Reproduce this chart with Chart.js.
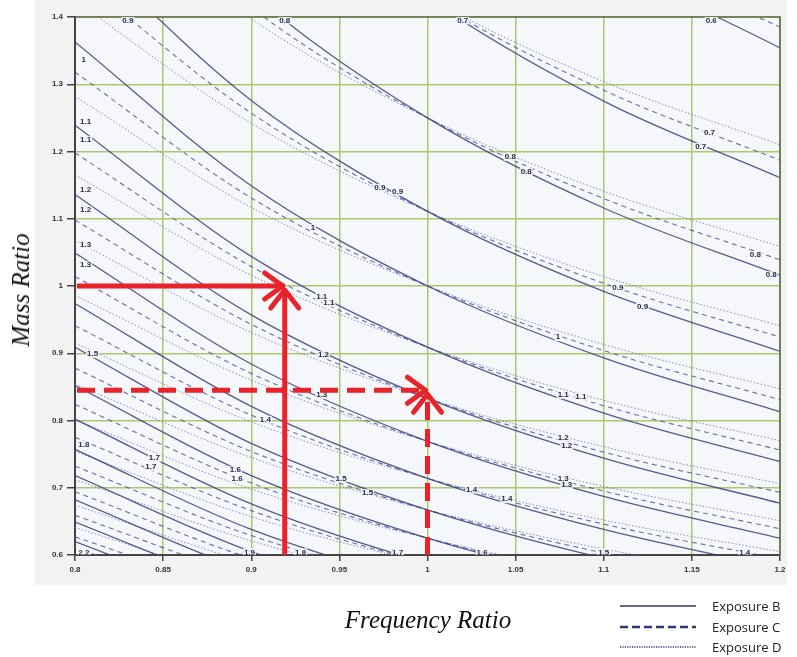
<!DOCTYPE html>
<html><head><meta charset="utf-8">
<script src="https://cdn.jsdelivr.net/npm/chart.js@4/dist/chart.umd.min.js"></script>
<style>
html,body{margin:0;padding:0;background:#fff;}
#wrap{position:relative;width:797px;height:657px;overflow:hidden;background:#fff;}
#bg{position:absolute;left:35px;top:0;width:752px;height:585px;background:#f2f2f2;}
#c{position:absolute;left:0;top:0;}
.ytitle{position:absolute;left:21px;top:290px;transform:translate(-50%,-50%) rotate(-90deg);font:italic 25px "Liberation Serif",serif;white-space:nowrap;color:#111;}
.xtitle{position:absolute;left:428px;top:620px;transform:translate(-50%,-50%);font:italic 25px "Liberation Serif",serif;color:#111;white-space:nowrap;}
.legend{position:absolute;left:620px;top:596px;font:13px "Open Sans","Liberation Sans",sans-serif;color:#222;}
.legend .row{height:20.5px;display:flex;align-items:center;}
.legend svg{margin-right:16px;}
</style></head>
<body><div id="wrap"><div id="bg"></div><canvas id="c" width="797" height="657"></canvas>
<div class="ytitle">Mass Ratio</div>
<div class="xtitle">Frequency Ratio</div>
<div class="legend">
<div class="row"><svg width="76" height="6"><line x1="0" y1="3" x2="76" y2="3" stroke="#2e3775" stroke-width="1.6"/></svg>Exposure B</div>
<div class="row"><svg width="76" height="6"><line x1="0" y1="3" x2="76" y2="3" stroke="#2e3775" stroke-width="2.4" stroke-dasharray="8,4"/></svg>Exposure C</div>
<div class="row"><svg width="76" height="6"><line x1="0" y1="3" x2="76" y2="3" stroke="#2e3775" stroke-width="1.6" stroke-dasharray="1.2,1.2"/></svg>Exposure D</div>
</div></div>
<script>
// ---- data ----
const freqs = [0.8, 0.9, 1.0, 1.1, 1.2];
const levels = [0.6, 0.7, 0.8, 0.9, 1.0, 1.1, 1.2, 1.3, 1.4, 1.5, 1.6, 1.7, 1.8, 1.9, 2.0, 2.1, 2.2];
// mass ratio of each contour level at the frequencies above
const massB = [
 [2.272,1.915,1.667,1.488,1.354],[1.948,1.641,1.429,1.275,1.161],[1.704,1.436,1.250,1.116,1.016],
 [1.515,1.276,1.111,0.992,0.903],[1.363,1.149,1.000,0.893,0.813],[1.239,1.044,0.909,0.811,0.739],
 [1.136,0.957,0.833,0.744,0.677],[1.049,0.884,0.769,0.687,0.625],[0.974,0.821,0.714,0.638,0.580],
 [0.909,0.766,0.667,0.595,0.542],[0.852,0.718,0.625,0.558,0.508],[0.802,0.676,0.588,0.525,0.478],
 [0.757,0.638,0.556,0.496,0.451],[0.718,0.605,0.526,0.470,0.428],[0.682,0.574,0.500,0.446,0.406],
 [0.649,0.547,0.476,0.425,0.387],[0.620,0.522,0.455,0.406,0.369]];
const massC = [
 [2.196,1.886,1.667,1.506,1.385],[1.882,1.616,1.429,1.291,1.187],[1.647,1.414,1.250,1.130,1.039],
 [1.464,1.257,1.111,1.004,0.924],[1.318,1.131,1.000,0.904,0.831],[1.198,1.029,0.909,0.822,0.756],
 [1.098,0.943,0.833,0.753,0.693],[1.014,0.870,0.769,0.695,0.639],[0.941,0.808,0.714,0.646,0.594],
 [0.878,0.754,0.667,0.603,0.554],[0.824,0.707,0.625,0.565,0.520],[0.775,0.666,0.588,0.532,0.489],
 [0.732,0.629,0.556,0.502,0.462],[0.694,0.595,0.526,0.476,0.437],[0.659,0.566,0.500,0.452,0.416],
 [0.627,0.539,0.476,0.430,0.396],[0.599,0.514,0.455,0.411,0.378]];
const massD = [
 [2.136,1.862,1.667,1.522,1.412],[1.831,1.596,1.429,1.304,1.210],[1.602,1.397,1.250,1.141,1.059],
 [1.424,1.242,1.111,1.014,0.941],[1.282,1.117,1.000,0.913,0.847],[1.165,1.016,0.909,0.830,0.770],
 [1.068,0.931,0.833,0.761,0.706],[0.986,0.860,0.769,0.702,0.651],[0.915,0.798,0.714,0.652,0.605],
 [0.854,0.745,0.667,0.609,0.565],[0.801,0.698,0.625,0.571,0.529],[0.754,0.657,0.588,0.537,0.498],
 [0.712,0.621,0.556,0.507,0.471],[0.674,0.588,0.526,0.481,0.446],[0.641,0.559,0.500,0.457,0.423],
 [0.610,0.532,0.476,0.435,0.403],[0.583,0.508,0.455,0.415,0.385]];
// contour labels: text, frequency ratio, mass ratio
const contourLabels = [
 ['0.7',1.160,1.228],['0.7',1.155,1.207],['0.8',1.186,1.046],['0.8',1.195,1.016],
 ['0.8',1.047,1.192],['0.8',1.056,1.170],['0.9',0.973,1.146],['0.9',0.983,1.140],
 ['0.9',1.108,0.997],['0.9',1.122,0.969],['1',0.935,1.086],['1',1.074,0.924],
 ['1.1',0.940,0.984],['1.1',0.944,0.975],['1.2',0.941,0.897],['1.1',1.077,0.838],['1.1',1.087,0.835],
 ['1.2',1.077,0.774],['1.2',1.079,0.762],['1.3',1.077,0.714],['1.3',1.079,0.704],
 ['1.4',1.025,0.697],['1.4',1.045,0.683],['1.5',0.951,0.714],['1.5',0.966,0.692],['1.3',0.940,0.838],
 ['1.4',0.908,0.801],['1.6',0.891,0.726],['1.6',0.892,0.714],['1.7',0.845,0.744],['1.7',0.843,0.731],
 ['1.8',0.805,0.764],['1.5',0.810,0.899],
 ['1',0.805,1.336],['1.1',0.806,1.244],['1.1',0.806,1.217],['1.2',0.806,1.143],['1.2',0.806,1.113],
 ['1.3',0.806,1.061],['1.3',0.806,1.031],
 ['0.9',0.830,1.395],['0.8',0.919,1.395],['0.7',1.020,1.395],['0.6',1.161,1.395],
 ['2.2',0.805,0.604],['1.9',0.899,0.604],['1.8',0.928,0.604],['1.7',0.983,0.604],['1.6',1.031,0.604],
 ['1.5',1.100,0.604],['1.4',1.180,0.604]];
// red arrows: tip frequency, tip mass, dashed?
const arrowTips = [[0.919, 1.0, false], [1.0, 0.845, true]];

const styles = {
 B:{color:'rgba(58,63,125,0.85)', width:1.3, dash:[]},
 C:{color:'rgba(70,76,150,0.8)', width:1.1, dash:[5,4]},
 D:{color:'rgba(105,110,190,0.8)', width:1.0, dash:[1.5,2]}
};
const datasets = [];
[['B',massB],['C',massC],['D',massD]].forEach(([k,arr])=>{
  arr.forEach((row,li)=>{
    datasets.push({
      label:'Exposure '+k+' '+levels[li],
      data:freqs.map((f,i)=>({x:f,y:row[i]})),
      borderColor:styles[k].color, borderWidth:styles[k].width, borderDash:styles[k].dash,
      pointRadius:0, fill:false, cubicInterpolationMode:'monotone'
    });
  });
});

const decor = {
  id:'decor',
  beforeDraw(chart){
    const {ctx, chartArea:a} = chart;
    ctx.save(); ctx.fillStyle='#f6f7fa'; ctx.fillRect(a.left,a.top,a.right-a.left,a.bottom-a.top); ctx.restore();
  },
  afterDatasetsDraw(chart){
    const {ctx, chartArea:a, scales:{x,y}} = chart;
    ctx.save();
    ctx.strokeStyle='#5f6b4a'; ctx.lineWidth=1.6;
    ctx.beginPath(); ctx.moveTo(a.left,a.top); ctx.lineTo(a.right,a.top); ctx.lineTo(a.right,a.bottom); ctx.stroke();
    ctx.save();
    ctx.beginPath(); ctx.rect(a.left+1,a.top,a.right-a.left,a.bottom-a.top); ctx.clip();
    ctx.font='bold 8px "Liberation Sans", sans-serif'; ctx.textAlign='center'; ctx.textBaseline='middle';
    contourLabels.forEach(([t,f,m])=>{
      const px=x.getPixelForValue(f), py=y.getPixelForValue(m);
      const w=ctx.measureText(t).width;
      ctx.fillStyle='rgba(246,247,250,0.85)'; ctx.fillRect(px-w/2-1,py-4,w+2,8);
      ctx.fillStyle='#2a2d45'; ctx.fillText(t,px,py);
    });
    ctx.restore();
    ctx.strokeStyle='#e8232a'; ctx.lineWidth=5; ctx.lineCap='butt'; ctx.lineJoin='round';
    arrowTips.forEach(([f,m,dashed])=>{
      const tx=x.getPixelForValue(f), ty=y.getPixelForValue(m);
      const x0=x.getPixelForValue(0.8), y0=y.getPixelForValue(0.6);
      ctx.setLineDash(dashed?[18,9]:[]);
      ctx.beginPath(); ctx.moveTo(x0+2,ty); ctx.lineTo(tx-3,ty); ctx.stroke();
      ctx.beginPath(); ctx.moveTo(tx,y0); ctx.lineTo(tx,ty+4); ctx.stroke();
      ctx.setLineDash([]); ctx.lineCap='round';
      ctx.beginPath(); ctx.moveTo(tx-20,ty-13); ctx.lineTo(tx-2,ty); ctx.lineTo(tx-20,ty+13); ctx.stroke();
      ctx.beginPath(); ctx.moveTo(tx-14,ty+22); ctx.lineTo(tx,ty+4); ctx.lineTo(tx+14,ty+22); ctx.stroke();
      ctx.lineCap='butt';
    });
    ctx.restore();
  }
};

new Chart(document.getElementById('c'), {
  type:'line',
  data:{datasets},
  options:{
    responsive:false, animation:false, events:[],
    layout:{padding:{left:35,top:17,right:17,bottom:72}},
    plugins:{legend:{display:false}, tooltip:{enabled:false}},
    scales:{
      x:{type:'linear', min:0.8, max:1.2,
         afterFit:s=>{s.height=30;},
         ticks:{stepSize:0.05, autoSkip:false, maxRotation:0, padding:4, color:'#333',
                font:{size:8, weight:'bold', family:'"Liberation Sans", sans-serif'},
                callback:v=>String(+(+v).toFixed(2))},
         grid:{color:'#a9c96a', lineWidth:1.5, tickLength:6, tickColor:'#444'},
         border:{color:'#444', width:2}},
      y:{type:'linear', min:0.6, max:1.4,
         afterFit:s=>{s.width=40;},
         ticks:{stepSize:0.1, padding:4, color:'#333',
                font:{size:8, weight:'bold', family:'"Liberation Sans", sans-serif'},
                callback:v=>String(+(+v).toFixed(1))},
         grid:{color:'#a9c96a', lineWidth:1.5, tickLength:8, tickColor:'#444'},
         border:{color:'#444', width:2}}
    }
  },
  plugins:[decor]
});
</script></body></html>
